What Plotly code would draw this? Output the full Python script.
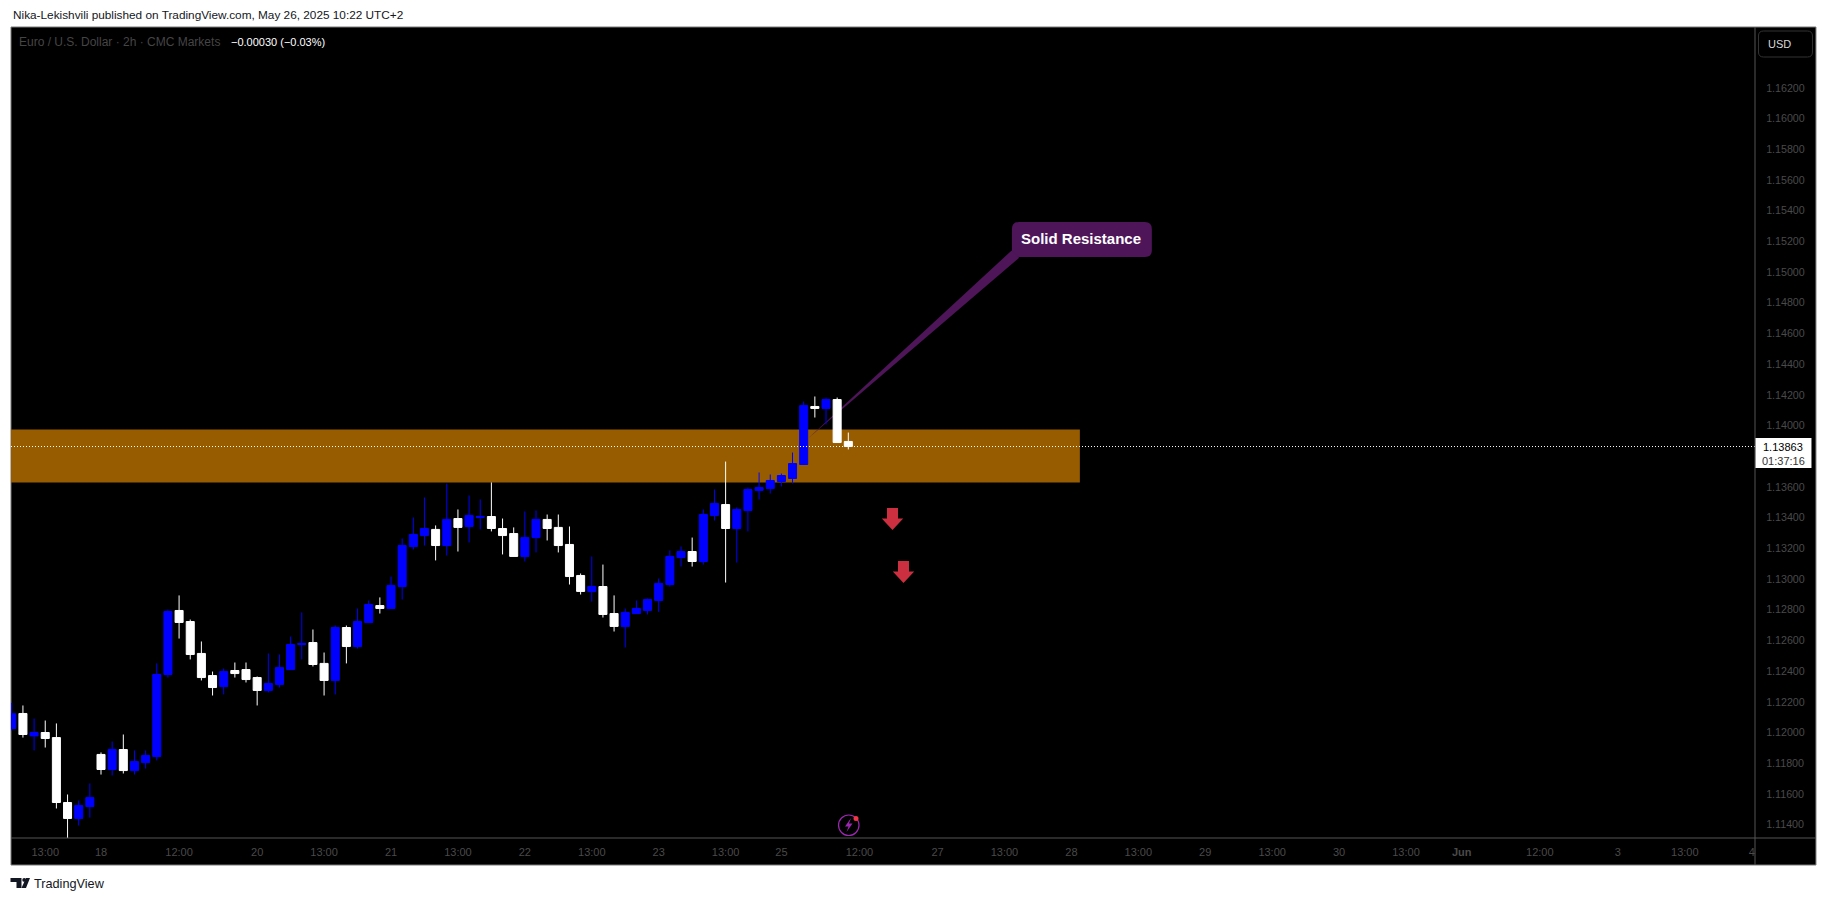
import plotly.graph_objects as go

# plot area on the page, in pixels
PLOT_L, PLOT_R, PLOT_T, PLOT_B = 10.5, 1755.5, 27, 838
W, H = 1827, 901

# bar index, one per 2h candle. OHLC
opens = [1.12026, 1.12124, 1.11978, 1.12000, 1.11967, 1.11544, 1.11440, 1.11518, 1.11857, 1.11759,
         1.11889, 1.11752, 1.11804, 1.11844, 1.12378, 1.12795, 1.12723, 1.12515, 1.12371, 1.12300,
         1.12404, 1.12410, 1.12358, 1.12274, 1.12313, 1.12410, 1.12573, 1.12586, 1.12450, 1.12339,
         1.12684, 1.12560, 1.12717, 1.12827, 1.12808, 1.12951, 1.13212, 1.13283, 1.13323, 1.13218,
         1.13394, 1.13342, 1.13401, 1.13407, 1.13329, 1.13296, 1.13147, 1.13270, 1.13388, 1.13336,
         1.13225, 1.13023, 1.12919, 1.12951, 1.12775, 1.12691, 1.12775, 1.12795, 1.12860, 1.12964,
         1.13140, 1.13179, 1.13114, 1.13414, 1.13485, 1.13329, 1.13446, 1.13577, 1.13590, 1.13635,
         1.13655, 1.13746, 1.14124, 1.14111, 1.14169, 1.13896]
highs = [1.12193, 1.12176, 1.12091, 1.12078, 1.12059, 1.11596, 1.11557, 1.11668, 1.11870, 1.11941,
         1.11987, 1.11883, 1.11883, 1.12450, 1.12801, 1.12893, 1.12736, 1.12593, 1.12397, 1.12417,
         1.12456, 1.12456, 1.12365, 1.12515, 1.12508, 1.12625, 1.12782, 1.12671, 1.12521, 1.12697,
         1.12697, 1.12808, 1.12860, 1.12880, 1.13016, 1.13264, 1.13401, 1.13531, 1.13349, 1.13622,
         1.13453, 1.13544, 1.13518, 1.13629, 1.13394, 1.13336, 1.13440, 1.13446, 1.13420, 1.13420,
         1.13342, 1.13036, 1.13147, 1.13094, 1.12893, 1.12808, 1.12860, 1.12873, 1.13003, 1.13186,
         1.13212, 1.13270, 1.13453, 1.13583, 1.13765, 1.13466, 1.13596, 1.13694, 1.13681, 1.13687,
         1.13824, 1.14156, 1.14189, 1.14182, 1.14182, 1.13954]
lows = [1.12013, 1.11967, 1.11883, 1.11902, 1.11505, 1.11300, 1.11394, 1.11446, 1.11726, 1.11720,
        1.11733, 1.11726, 1.11765, 1.11818, 1.12358, 1.12612, 1.12476, 1.12339, 1.12241, 1.12248,
        1.12358, 1.12326, 1.12176, 1.12261, 1.12293, 1.12410, 1.12476, 1.12430, 1.12241, 1.12248,
        1.12450, 1.12547, 1.12717, 1.12775, 1.12808, 1.12866, 1.13192, 1.13218, 1.13121, 1.13153,
        1.13179, 1.13238, 1.13323, 1.13310, 1.13160, 1.13147, 1.13114, 1.13173, 1.13251, 1.13173,
        1.12964, 1.12899, 1.12853, 1.12749, 1.12658, 1.12554, 1.12775, 1.12769, 1.12786, 1.12951,
        1.13081, 1.13081, 1.13094, 1.13381, 1.12977, 1.13107, 1.13310, 1.13518, 1.13557, 1.13603,
        1.13622, 1.13746, 1.14052, 1.14007, 1.13889, 1.13844]
closes = [1.12122, 1.11987, 1.12000, 1.11961, 1.11544, 1.11440, 1.11524, 1.11576, 1.11759, 1.11889,
          1.11752, 1.11811, 1.11850, 1.12378, 1.12788, 1.12717, 1.12508, 1.12358, 1.12293, 1.12397,
          1.12384, 1.12345, 1.12274, 1.12319, 1.12423, 1.12573, 1.12580, 1.12443, 1.12339, 1.12684,
          1.12560, 1.12723, 1.12834, 1.12808, 1.12958, 1.13218, 1.13290, 1.13329, 1.13218, 1.13388,
          1.13336, 1.13414, 1.13407, 1.13329, 1.13283, 1.13147, 1.13270, 1.13388, 1.13329, 1.13218,
          1.13016, 1.12919, 1.12951, 1.12769, 1.12691, 1.12782, 1.12808, 1.12866, 1.12971, 1.13147,
          1.13179, 1.13114, 1.13420, 1.13492, 1.13329, 1.13453, 1.13583, 1.13596, 1.13642, 1.13674,
          1.13752, 1.14130, 1.14111, 1.14169, 1.13889, 1.13863]
bars = list(range(len(opens)))

x_tick_pos = [3, 8, 15, 22, 28, 34, 40, 46, 52, 58, 64, 69, 76, 83, 89, 95, 101, 107, 113, 119, 125,
              130, 137, 144, 150, 156]
x_tick_text = ["13:00", "18", "12:00", "20", "13:00", "21", "13:00", "22", "13:00", "23", "13:00",
               "25", "12:00", "27", "13:00", "28", "13:00", "29", "13:00", "30", "13:00", "<b>Jun</b>",
               "12:00", "3", "13:00", "4"]
y_ticks = [1.114, 1.116, 1.118, 1.120, 1.122, 1.124, 1.126, 1.128, 1.130, 1.132, 1.134, 1.136,
           1.140, 1.142, 1.144, 1.146, 1.148, 1.150, 1.152, 1.154, 1.156, 1.158, 1.160, 1.162]

zone_low, zone_high = 1.13629, 1.13974
zone_end = 95.76
last_price = 1.13863

PURPLE = "#4e1559"
RED = "#cc3040"
GREY = "#4a4a4a"
BORDER = "#787878"
LINE = "#555555"


def px(x):
    # paper coords run over the plot area, not the page
    return (x - PLOT_L) / (PLOT_R - PLOT_L)


def py(y):
    return (PLOT_B - y) / (PLOT_B - PLOT_T)


def rounded(x0, y0, x1, y1, r):
    # rounded box as an svg path, in page pixels
    pts = [
        ("M", x0 + r, y0), ("L", x1 - r, y0), ("Q", x1, y0, x1, y0 + r),
        ("L", x1, y1 - r), ("Q", x1, y1, x1 - r, y1),
        ("L", x0 + r, y1), ("Q", x0, y1, x0, y1 - r),
        ("L", x0, y0 + r), ("Q", x0, y0, x0 + r, y0),
    ]
    out = ""
    for p in pts:
        vals = p[1:]
        coords = [f"{px(vals[i])},{py(vals[i + 1])}" for i in range(0, len(vals), 2)]
        out += p[0] + " ".join(coords) + " "
    return out + "Z"


def poly(points):
    return "M" + " L".join(f"{px(a)},{py(b)}" for a, b in points) + " Z"


def page_shape(path, fill, line=None, layer="above", width=1):
    return dict(type="path", path=path, xref="paper", yref="paper", layer=layer, fillcolor=fill,
                line=dict(color=line or fill, width=width if line else 0))


def page_line(x0, y0, x1, y1, color):
    return dict(type="line", xref="paper", yref="paper", x0=px(x0), y0=py(y0), x1=px(x1), y1=py(y1),
                layer="above", line=dict(color=color, width=1))


def down_arrow(x, top):
    # red arrow drawing, x is the middle
    return poly([(x - 5.5, top), (x + 5.5, top), (x + 5.5, top + 10.5), (x + 10.7, top + 10.5),
                 (x, top + 22), (x - 10.7, top + 10.5), (x - 5.5, top + 10.5)])


def note(x, y, text, color, size=11, family="Liberation Sans", anchor="left"):
    return dict(x=px(x), y=py(y), xref="paper", yref="paper", text=text, showarrow=False, xanchor=anchor,
                yanchor="middle", align="left", font=dict(color=color, size=size, family=family))


fig = go.Figure(
    go.Candlestick(
        x=bars,
        open=opens,
        high=highs,
        low=lows,
        close=closes,
        increasing=dict(line=dict(color="#0000ff", width=1), fillcolor="#0000ff"),
        decreasing=dict(line=dict(color="#ffffff", width=1), fillcolor="#ffffff"),
        whiskerwidth=0,
        showlegend=False,
    )
)

shapes = [
    # black panel with its border
    dict(type="rect", xref="paper", yref="paper", x0=px(10.5), x1=px(1816.5), y0=py(27), y1=py(865),
         layer="below", fillcolor="#000000", line=dict(color=BORDER, width=1)),
    # supply zone, then the callout tail over it
    dict(type="rect", xref="x", yref="y", x0=-1, x1=zone_end, y0=zone_low, y1=zone_high, layer="below",
         fillcolor="#985c00", line=dict(width=0)),
    dict(type="path", xref="x", yref="y", layer="below", fillcolor=PURPLE, line=dict(width=0),
         path="M71.38,1.13915 L89.64,1.15140 L90.32,1.15093 Z"),
    page_shape(rounded(1012, 222, 1152, 257, 7), PURPLE, layer="below"),
    # last price
    dict(type="line", xref="x", yref="y", x0=-0.07, x1=156.29, y0=last_price, y1=last_price, layer="above",
         line=dict(color="#ffffff", width=1, dash="1px,2px")),
    page_shape(down_arrow(892.5, 508), RED),
    page_shape(down_arrow(903.5, 561), RED),
    # axis separators
    page_line(10.5, 838, 1816.5, 838, LINE),
    page_line(1755.5, 27, 1755.5, 865, LINE),
    # USD button, last price tag
    page_shape(rounded(1759, 31, 1813, 57, 5), "#000000", line="#333333"),
    page_shape(poly([(1756, 438), (1812, 438), (1812, 468), (1756, 468)]), "#ffffff"),
    # lightning badge
    dict(type="circle", xref="paper", yref="paper", x0=px(838.5), x1=px(859), y0=py(815), y1=py(835.5),
         layer="above", fillcolor="#000000", line=dict(color="#9c27b0", width=1.2)),
    page_shape(poly([(851, 818), (845, 826.5), (848.5, 826.5), (846.5, 832), (852.5, 823.5), (849, 823.5)]),
               "#9c27b0"),
    dict(type="circle", xref="paper", yref="paper", x0=px(853.5), x1=px(858.5), y0=py(816), y1=py(821),
         layer="above", fillcolor="#f23645", line=dict(width=0)),
    # TradingView mark
    page_shape(poly([(10, 878), (21, 878), (21, 888), (16, 888), (16, 882), (10, 882)]), "#131722"),
    dict(type="circle", xref="paper", yref="paper", x0=px(21.8), x1=px(25.6), y0=py(878), y1=py(881.8),
         layer="above", fillcolor="#131722", line=dict(width=0)),
    page_shape(poly([(25.5, 878), (29.5, 878), (25.5, 888), (21, 888)]), "#131722"),
]

annotations = [
    note(10.5, 14.5, "Nika-Lekishvili published on TradingView.com, May 26, 2025 10:22 UTC+2", "#131722", 11.8),
    note(16.5, 41.5, "Euro / U.S. Dollar · 2h · CMC Markets", "#454545", 12),
    note(228.5, 41.5, "−0.00030 (−0.03%)", "#ffffff", 11),
    note(1767, 44, "USD", "#d8d8d8", 11),
    note(1784, 447, "1.13863", "#000000", 11, anchor="center"),
    note(1784, 461, "01:37:16", "#333333", 11, anchor="center"),
    note(1081.5, 238.5, "<b>Solid Resistance</b>", "#ffffff", 15, anchor="center"),
    note(32, 883.5, "TradingView", "#131722", 12.7),
]

fig.update_layout(
    width=W,
    height=H,
    margin=dict(l=10.5, r=71.5, t=27, b=63, autoexpand=False),
    paper_bgcolor="#ffffff",
    plot_bgcolor="rgba(0,0,0,0)",
    boxgap=0.1,
    boxgroupgap=0.2,
    shapes=shapes,
    annotations=annotations,
    xaxis=dict(
        range=[-0.07, 156.29],
        rangeslider_visible=False,
        tickmode="array",
        tickvals=x_tick_pos,
        ticktext=x_tick_text,
        tickangle=0,
        showgrid=False,
        zeroline=False,
        ticks="outside",
        ticklen=4,
        tickcolor="rgba(0,0,0,0)",
        tickfont=dict(color=GREY, size=11, family="Liberation Sans"),
    ),
    yaxis=dict(
        range=[1.113127, 1.165961],
        side="right",
        tickmode="array",
        tickvals=y_ticks,
        tickformat=".5f",
        showgrid=False,
        zeroline=False,
        ticks="outside",
        ticklen=8,
        tickcolor="rgba(0,0,0,0)",
        tickfont=dict(color=GREY, size=10.7, family="Liberation Sans"),
    ),
)

fig.write_html("out.html", config=dict(displayModeBar=False), post_script="document.body.style.margin='0';")
